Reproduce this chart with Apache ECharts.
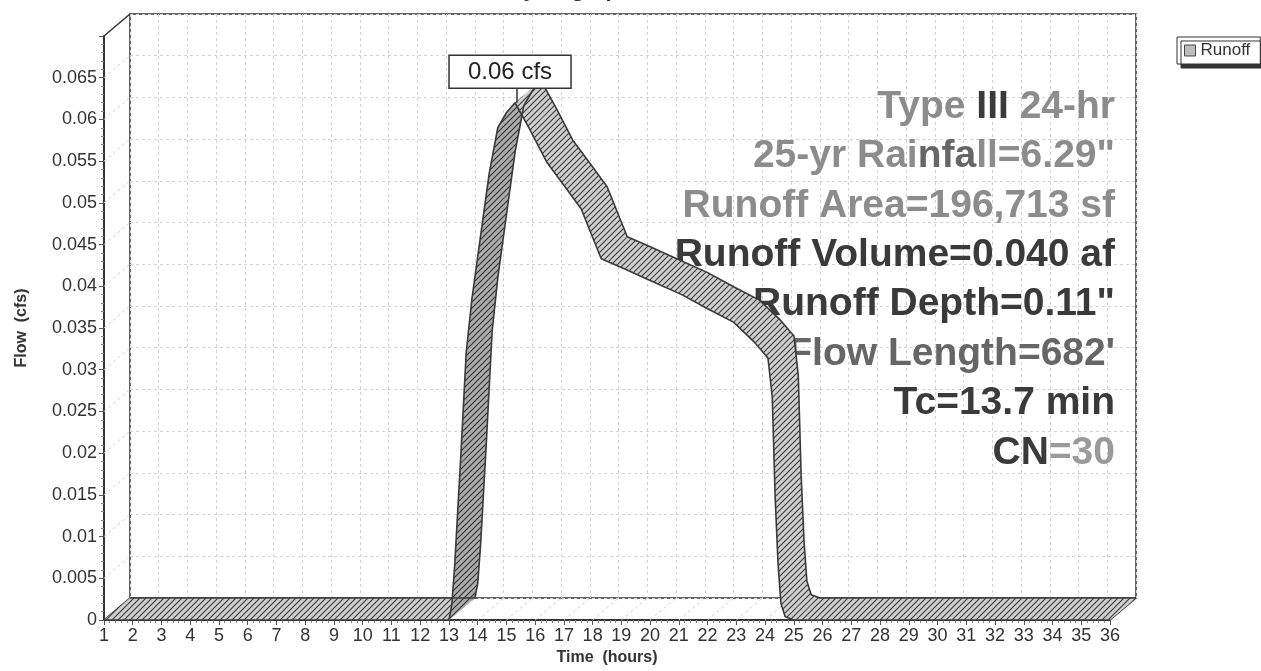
<!DOCTYPE html>
<html><head><meta charset="utf-8">
<script src="https://cdn.jsdelivr.net/npm/echarts@6/dist/echarts.min.js"></script>
<style>html,body{margin:0;padding:0;background:#fff}#c{width:1261px;height:671px}</style>
</head><body><div id="c"></div>
<script>
// ---------------- data ----------------
const times = [1, 13.0, 13.1, 13.2, 13.4, 13.6, 13.8, 14.0, 14.2, 14.4, 14.7, 15.0, 15.3, 15.8, 16.4, 17.0, 17.6, 18.3, 19.1, 20.0, 21.1, 22.0, 22.9, 23.6, 24.1, 24.25, 24.35, 24.45, 24.55, 24.7, 25.0, 36];
const flows = [0, 0, 0.0018, 0.0065, 0.0188, 0.032, 0.0385, 0.0435, 0.0485, 0.0535, 0.059, 0.0608, 0.062, 0.0589, 0.0549, 0.0521, 0.0493, 0.0433, 0.0421, 0.0407, 0.039, 0.0373, 0.0357, 0.0334, 0.0314, 0.0267, 0.0147, 0.0068, 0.002, 0.0004, 0, 0];
const xTicks = [1,2,3,4,5,6,7,8,9,10,11,12,13,14,15,16,17,18,19,20,21,22,23,24,25,26,27,28,29,30,31,32,33,34,35,36];
const yTicks = [0,0.005,0.01,0.015,0.02,0.025,0.03,0.035,0.04,0.045,0.05,0.055,0.06,0.065,0.07];
const seriesName = 'Runoff';
const peakLabel = '0.06 cfs';
const chartTitle = 'Hydrograph';
const xName = 'Time  (hours)';
const yName = 'Flow  (cfs)';
const infoLines = [
  '{g|Type }{d|III}{g| 24-hr}',
  '{g|25-yr Rai}{m|nfa}{g|ll=6.29"}',
  '{g|Runoff Area=196,713 sf}',
  '{d|Runoff Volume=0.040 af}',
  '{d|Runoff Depth=0.11"}',
  '{m|Flow Length=682\'}',
  '{d|Tc=13.7 min}',
  '{d|CN}{l|=30}'
];

// ---------------- layout / style ----------------
const FONT = "'Liberation Sans', Arial, sans-serif";
const FRONT = {left: 104, top: 36, right: 151, bottom: 51};
const DX = 26, DY = 22;
const BACK = {left: FRONT.left + DX, top: FRONT.top - DY, right: FRONT.right - DX, bottom: FRONT.bottom + DY};

function hatch(bg, line) {
  const c = document.createElement('canvas');
  c.width = 6; c.height = 6;
  const g = c.getContext('2d');
  g.fillStyle = bg; g.fillRect(0, 0, 6, 6);
  g.strokeStyle = line; g.lineWidth = 1.1;
  g.beginPath();
  g.moveTo(-1, 7); g.lineTo(7, -1);
  g.moveTo(-4, 4); g.lineTo(4, -4);
  g.moveTo(2, 10); g.lineTo(10, 2);
  g.stroke();
  return c;
}
const patLight = hatch('#cfcfcf', '#3a3a3a');
const patDark = hatch('#ababab', '#333333');

const segs = [];
for (let i = 0; i < times.length - 1; i++) segs.push([times[i], flows[i], times[i + 1], flows[i + 1]]);
const frontPts = times.map((t, i) => [t, flows[i]]);
let pk = 0;
flows.forEach((v, i) => { if (v > flows[pk]) pk = i; });

const chart = echarts.init(document.getElementById('c'), null, {renderer: 'canvas'});

const valueAxisCommon = {type: 'value', splitLine: {show: false}};
const GRIDLINE = {show: true, lineStyle: {color: '#d2d2d2', type: [3, 3], width: 1}};

const option = {
  animation: false,
  backgroundColor: '#fff',
  textStyle: {fontFamily: FONT},
  grid: [
    Object.assign({show: false}, FRONT),
    Object.assign({show: true, borderColor: '#333', borderWidth: 1.5, backgroundColor: '#fff'}, BACK)
  ],
  legend: {
    data: [{name: seriesName, icon: 'rect'}],
    left: 1177, top: 37,
    padding: [5, 10, 5, 7],
    itemWidth: 11, itemHeight: 11, itemGap: 0,
    backgroundColor: '#fff', borderColor: '#333', borderWidth: 1,
    shadowColor: '#333', shadowOffsetX: 4, shadowOffsetY: 4, shadowBlur: 0,
    itemStyle: {color: '#bdbdbd', borderColor: '#444', borderWidth: 1},
    textStyle: {fontFamily: FONT, fontSize: 17, color: '#333'}
  },
  xAxis: [
    Object.assign({}, valueAxisCommon, {
      gridIndex: 0, min: xTicks[0], max: xTicks[xTicks.length - 1], interval: 1,
      name: xName, nameLocation: 'middle', nameGap: 29,
      nameTextStyle: {fontFamily: FONT, fontWeight: 'bold', fontSize: 16, color: '#333'},
      axisLine: {lineStyle: {color: '#333', width: 2}},
      axisTick: {length: 5, lineStyle: {color: '#555'}},
      minorTick: {show: true, splitNumber: 5, length: 3, lineStyle: {color: '#888'}},
      axisLabel: {fontFamily: FONT, fontSize: 18, color: '#333', margin: 7}
    }),
    Object.assign({}, valueAxisCommon, {
      gridIndex: 1, min: xTicks[0], max: xTicks[xTicks.length - 1], interval: 1,
      axisLine: {show: false}, axisTick: {show: false}, axisLabel: {show: false},
      splitLine: GRIDLINE
    })
  ],
  yAxis: [
    Object.assign({}, valueAxisCommon, {
      gridIndex: 0, min: yTicks[0], max: yTicks[yTicks.length - 1], interval: 0.005,
      name: yName, nameLocation: 'middle', nameGap: 74,
      nameTextStyle: {fontFamily: FONT, fontWeight: 'bold', fontSize: 16, color: '#333'},
      axisLine: {lineStyle: {color: '#333', width: 2}},
      axisTick: {length: 5, lineStyle: {color: '#555'}},
      minorTick: {show: true, splitNumber: 5, length: 3, lineStyle: {color: '#888'}},
      axisLabel: {fontFamily: FONT, fontSize: 18, color: '#333', margin: 7, showMaxLabel: false,
        formatter: v => String(+v.toFixed(4))}
    }),
    Object.assign({}, valueAxisCommon, {
      gridIndex: 1, min: yTicks[0], max: yTicks[yTicks.length - 1], interval: 0.005,
      axisLine: {show: false}, axisTick: {show: false}, axisLabel: {show: false},
      splitLine: GRIDLINE
    })
  ],
  graphic: [
    {type: 'text', x: 570, y: -10, z: 2, style: {text: chartTitle, font: 'bold 22px ' + FONT, fill: '#333', align: 'center', verticalAlign: 'middle'}}
  ].concat(infoLines.map((t, i) => ({
    type: 'text', x: 1115, y: 107 + i * 49.4, z: 2, silent: true,
    style: {
      text: t, align: 'right', verticalAlign: 'middle',
      rich: {
        g: {fontFamily: FONT, fontWeight: 'bold', fontSize: 39, fill: '#8c8c8c', color: '#8c8c8c'},
        d: {fontFamily: FONT, fontWeight: 'bold', fontSize: 39, fill: '#3a3a3a', color: '#3a3a3a'},
        m: {fontFamily: FONT, fontWeight: 'bold', fontSize: 39, fill: '#666', color: '#666'},
        l: {fontFamily: FONT, fontWeight: 'bold', fontSize: 39, fill: '#9a9a9a', color: '#9a9a9a'}
      }
    }
  }))),
  series: [
    {
      // wall / floor depth lines
      type: 'custom', name: 'frame', xAxisIndex: 0, yAxisIndex: 0, z: 1, silent: true,
      data: [[xTicks[0], yTicks[0]]],
      renderItem: function (params, api) {
        const kids = [];
        const x0 = xTicks[0], x1 = xTicks[xTicks.length - 1];
        const yTop = yTicks[yTicks.length - 1];
        yTicks.forEach(v => {
          const p = api.coord([x0, v]);
          kids.push({type: 'line', shape: {x1: p[0], y1: p[1], x2: p[0] + DX, y2: p[1] - DY}, style: {stroke: '#d2d2d2', lineWidth: 1, lineDash: [3, 3]}});
        });
        xTicks.forEach(t => {
          const p = api.coord([t, 0]);
          kids.push({type: 'line', shape: {x1: p[0], y1: p[1], x2: p[0] + DX, y2: p[1] - DY}, style: {stroke: '#d2d2d2', lineWidth: 1, lineDash: [3, 3]}});
        });
        [[x0, yTop], [x0, 0], [x1, 0]].forEach(c => {
          const p = api.coord(c);
          kids.push({type: 'line', shape: {x1: p[0], y1: p[1], x2: p[0] + DX, y2: p[1] - DY}, style: {stroke: '#333', lineWidth: 1.5}});
        });
        return {type: 'group', children: kids};
      }
    },
    {
      type: 'custom', name: seriesName, xAxisIndex: 0, yAxisIndex: 0, z: 3, silent: true,
      itemStyle: {color: '#bdbdbd'},
      data: segs,
      encode: {x: [0, 2], y: [1, 3]},
      renderItem: function (params, api) {
        const a = api.coord([api.value(0), api.value(1)]);
        const b = api.coord([api.value(2), api.value(3)]);
        const rising = api.value(3) > api.value(1);
        return {
          type: 'polygon',
          shape: {points: [a, b, [b[0] + DX, b[1] - DY], [a[0] + DX, a[1] - DY]]},
          style: {fill: {image: rising ? patDark : patLight, repeat: 'repeat'}, stroke: null}
        };
      }
    },
    {
      type: 'line', name: 'front edge', xAxisIndex: 0, yAxisIndex: 0, z: 4, silent: true, clip: false,
      data: frontPts, showSymbol: false, symbol: 'none',
      lineStyle: {color: '#3a3a3a', width: 1.6}
    },
    {
      type: 'line', name: 'back edge', xAxisIndex: 1, yAxisIndex: 1, z: 4, silent: true, clip: false,
      data: frontPts, showSymbol: false, symbol: 'none',
      lineStyle: {color: '#3a3a3a', width: 1.6}
    },
    {
      type: 'custom', name: 'peak label', xAxisIndex: 0, yAxisIndex: 0, z: 6, silent: true,
      data: [[times[pk], flows[pk]]],
      renderItem: function (params, api) {
        const p = api.coord([api.value(0), api.value(1)]);
        const cx = p[0] - 5, cy = p[1] - 31, w = 122, h = 33;
        return {type: 'group', children: [
          {type: 'line', shape: {x1: p[0] + 2, y1: cy + h / 2, x2: p[0] + 2, y2: p[1]}, style: {stroke: '#333', lineWidth: 1.5}},
          {type: 'rect', shape: {x: cx - w / 2, y: cy - h / 2, width: w, height: h}, style: {fill: '#fff', stroke: '#333', lineWidth: 1.5}},
          {type: 'text', x: cx, y: cy + 1, style: {text: peakLabel, font: '24px ' + FONT, fill: '#222', align: 'center', verticalAlign: 'middle'}}
        ]};
      }
    }
  ]
};
chart.setOption(option);
</script>
</body></html>
